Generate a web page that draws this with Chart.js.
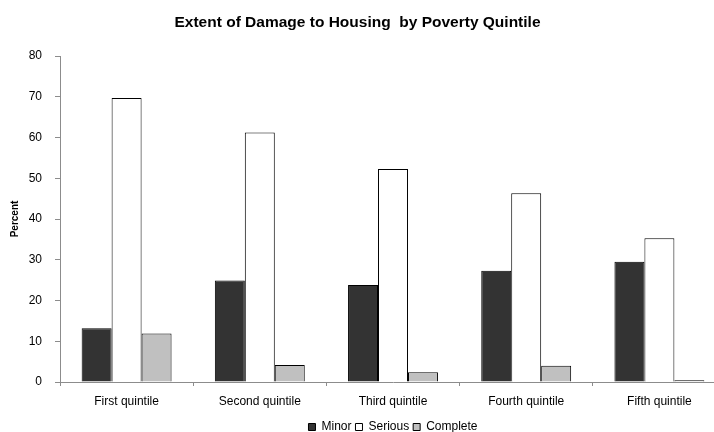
<!DOCTYPE html>
<html>
<head>
<meta charset="utf-8">
<script src="https://cdn.jsdelivr.net/npm/chart.js@4"></script>
<style>
  html, body { margin: 0; padding: 0; background: #fff; }
  #frame { width: 714px; height: 432px; overflow: hidden; position: relative; }
  #wrap { width: 740px; height: 432px; position: absolute; left: 0; top: 0; }
</style>
</head>
<body>
<div id="frame"><div id="wrap"><canvas id="c"></canvas></div></div>
<script>
const chartTitle = 'Extent of Damage to Housing  by Poverty Quintile';
const categories = ['First quintile', 'Second quintile', 'Third quintile', 'Fourth quintile', 'Fifth quintile'];
const minor    = [13.2, 24.9, 23.8, 27.3, 29.5];
const serious  = [69.7, 61.2, 52.3, 46.3, 35.3];
const complete = [11.9, 4.2, 2.4, 4.0, 0.4];
const yMin = 0, yMax = 80, yStep = 10;

const FONT = 'Arial, "Liberation Sans", sans-serif';
const AXIS_GREY = '#8c8c8c';

// Heading drawn centred over the visible page width
const headingPlugin = {
  id: 'heading',
  afterDraw(chart) {
    const ctx = chart.ctx;
    ctx.save();
    ctx.font = 'bold 15.5px ' + FONT;
    ctx.fillStyle = '#000';
    ctx.textAlign = 'center';
    ctx.textBaseline = 'middle';
    ctx.fillText(chartTitle, 357.5, 22.5);
    ctx.restore();
  }
};

new Chart(document.getElementById('c'), {
  type: 'bar',
  data: {
    labels: categories,
    datasets: [
      { label: 'Minor', data: minor, backgroundColor: '#333333', borderColor: '#000', borderWidth: 1 },
      { label: 'Serious', data: serious, backgroundColor: '#ffffff', borderColor: '#000', borderWidth: 1 },
      { label: 'Complete', data: complete, backgroundColor: '#c0c0c0', borderColor: '#000', borderWidth: 1 }
    ]
  },
  options: {
    responsive: true,
    maintainAspectRatio: false,
    animation: false,
    devicePixelRatio: 1,
    datasets: { bar: { categoryPercentage: 0.675, barPercentage: 1.0 } },
    layout: { padding: { top: 56, right: 14, bottom: -11, left: 0 } },
    plugins: {
      title: { display: false },
      tooltip: { enabled: false },
      legend: {
        position: 'bottom',
        fullSize: false,
        labels: {
          boxWidth: 7,
          boxHeight: 7,
          padding: 4,
          color: '#000',
          font: { family: FONT, size: 12 }
        }
      }
    },
    scales: {
      x: {
        offset: true,
        afterFit(scale) { scale.height = 35; },
        grid: { offset: true, drawOnChartArea: false, drawTicks: true, tickLength: 4, color: AXIS_GREY },
        border: { display: true, color: AXIS_GREY, width: 1 },
        ticks: { color: '#000', font: { family: FONT, size: 12 }, padding: 8, maxRotation: 0, autoSkip: false }
      },
      y: {
        min: yMin,
        max: yMax,
        afterFit(scale) { scale.width = 60; },
        grid: { drawOnChartArea: false, drawTicks: true, tickLength: 5, color: AXIS_GREY },
        border: { display: true, color: AXIS_GREY, width: 1 },
        ticks: { stepSize: yStep, color: '#000', font: { family: FONT, size: 12 }, padding: 13 },
        title: {
          display: true,
          text: 'Percent',
          color: '#000',
          font: { family: FONT, size: 10, weight: 'bold' },
          padding: { top: 9, bottom: 0 }
        }
      }
    }
  },
  plugins: [headingPlugin]
});
</script>
</body>
</html>
